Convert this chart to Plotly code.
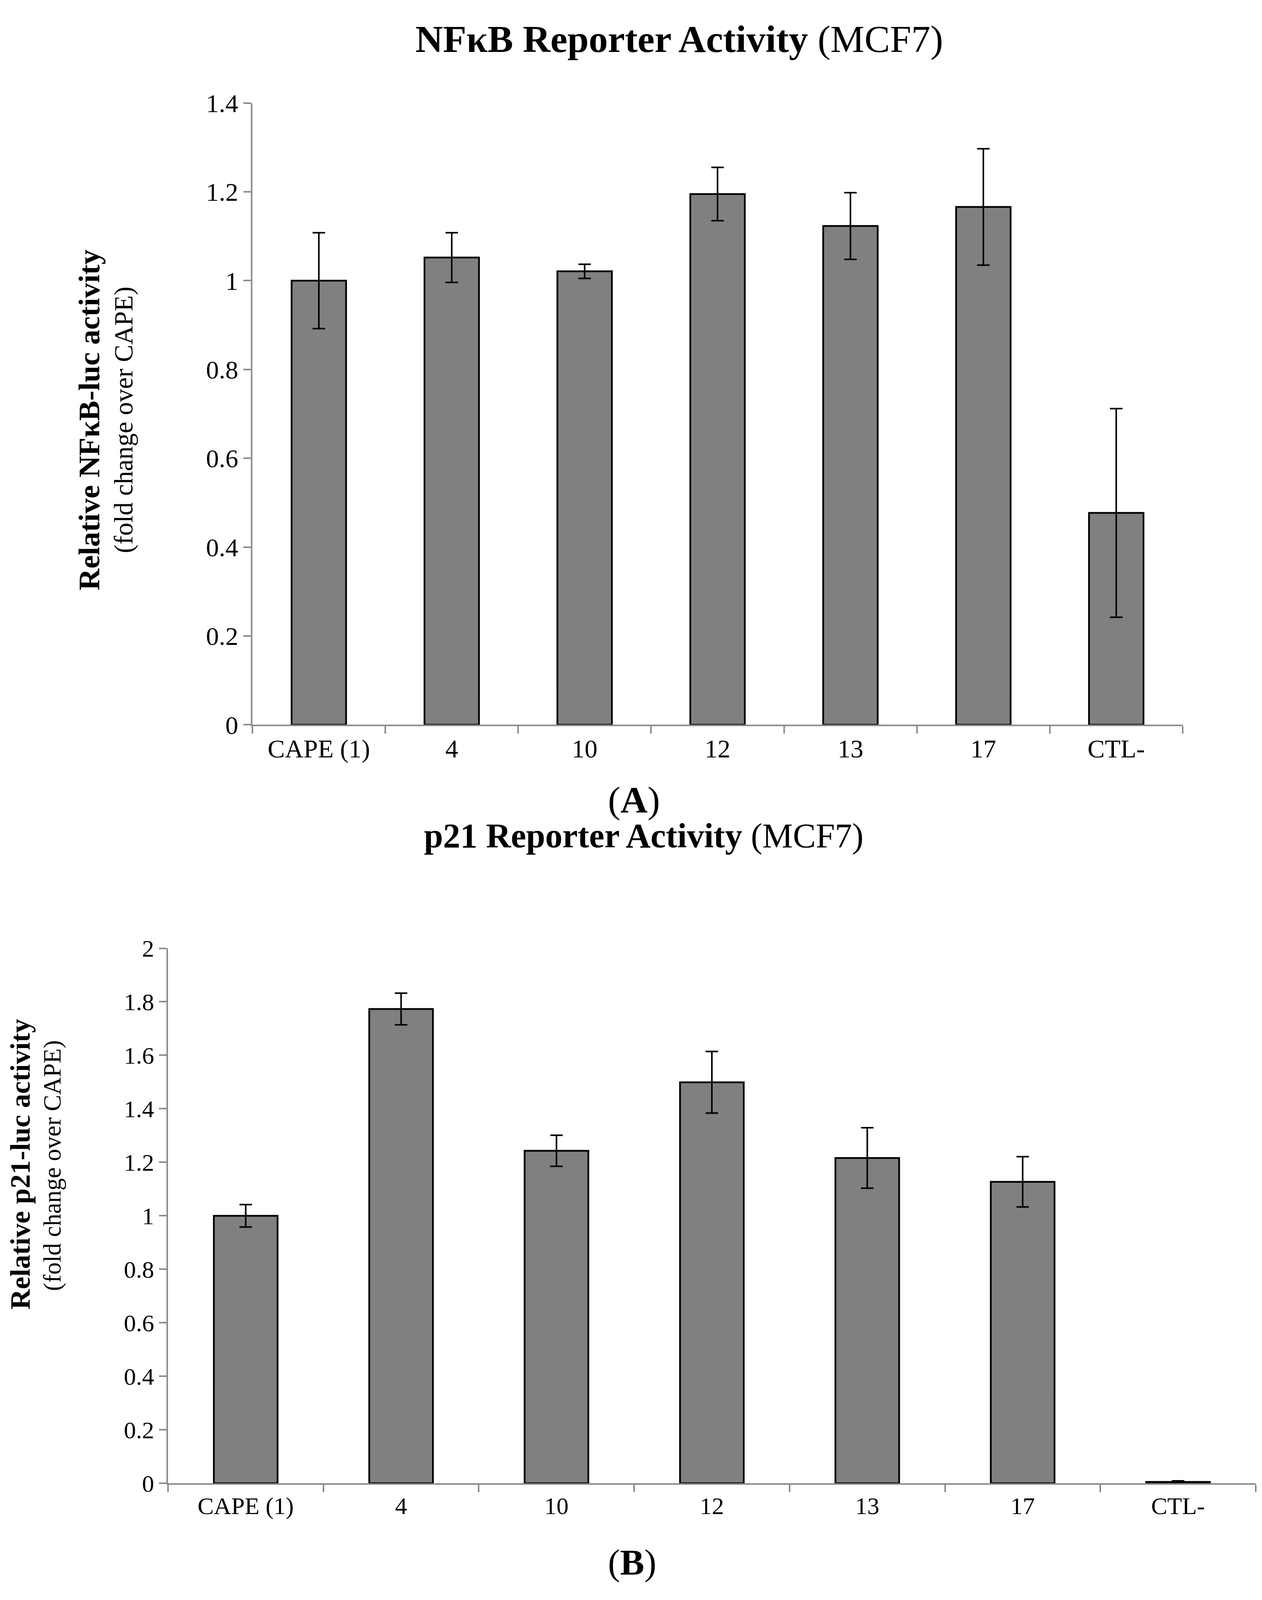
import plotly.graph_objects as go

# Compounds tested in both reporter assays
categories = ["CAPE (1)", "4", "10", "12", "13", "17", "CTL-"]

# NFkB-luc activity (fold change over CAPE) and error bars
nfkb_values = [1.000, 1.052, 1.021, 1.195, 1.123, 1.166, 0.477]
nfkb_errors = [0.108, 0.056, 0.016, 0.060, 0.075, 0.131, 0.235]

# p21-luc activity (fold change over CAPE) and error bars
p21_values = [1.000, 1.773, 1.243, 1.499, 1.216, 1.127, 0.005]
p21_errors = [0.042, 0.059, 0.058, 0.115, 0.113, 0.094, 0.004]

# The visible page is a bit shorter than the reference, so the figure is
# fitted into it and reference pixel positions are scaled vertically.
REF_H = 4353
FW, FH = 3214, 4075
K = (FH + 8) / REF_H
serif = "Liberation Serif, Times New Roman, serif"
axis_grey = "#8c8c8c"


def px_x(v):
    return (v - 8) / FW


def px_y(v):
    return 1 - (v * K - 8) / FH


fig = go.Figure()

fig.add_trace(go.Bar(
    x=categories, y=nfkb_values, width=0.41,
    marker=dict(color="#808080", line=dict(color="black", width=4.5)),
    error_y=dict(type="data", array=nfkb_errors, color="black", thickness=4, width=16),
    xaxis="x", yaxis="y", showlegend=False
))

fig.add_trace(go.Bar(
    x=categories, y=p21_values, width=0.41,
    marker=dict(color="#808080", line=dict(color="black", width=4.5)),
    error_y=dict(type="data", array=p21_errors, color="black", thickness=4, width=16),
    xaxis="x2", yaxis="y2", showlegend=False
))

common_x = dict(
    type="category", range=[-0.5, 6.5], showline=True, linecolor=axis_grey, linewidth=4,
    ticks="outside", tickson="boundaries", ticklen=19, tickwidth=4, tickcolor=axis_grey,
    showgrid=False, zeroline=False,
)
common_y = dict(
    showline=True, linecolor=axis_grey, linewidth=4, ticks="outside", ticklen=19,
    tickwidth=4, tickcolor=axis_grey, showgrid=False, zeroline=False, dtick=0.2,
)

fig.update_layout(
    width=FW, height=FH,
    margin=dict(l=0, r=0, t=0, b=0),
    paper_bgcolor="white", plot_bgcolor="white",
    font=dict(family=serif, color="black"),
    xaxis=dict(common_x, domain=[px_x(646), px_x(3027)], anchor="y",
               tickfont=dict(size=66, family=serif)),
    yaxis=dict(common_y, domain=[px_y(1975), px_y(247)], range=[0, 1.4], anchor="x",
               tickfont=dict(size=66, family=serif)),
    xaxis2=dict(common_x, domain=[px_x(430), px_x(3214)], anchor="y2",
                tickfont=dict(size=62, family=serif)),
    yaxis2=dict(common_y, domain=[px_y(4083), px_y(2596)], range=[0, 2], anchor="x2",
                tickfont=dict(size=62, family=serif)),
)

# Main title sits right at the top edge of the page
fig.add_annotation(
    text="<b>NFκB Reporter Activity</b> (MCF7)", x=px_x(1738), y=1.0,
    xref="paper", yref="paper", xanchor="center", yanchor="top", showarrow=False,
    font=dict(size=98, family=serif, color="black")
)

# Panel letters, second title and two-line y axis titles
texts = [
    ("(<b>A</b>)", 1622, 2183, 96, 0),
    ("<b>p21 Reporter Activity</b> (MCF7)", 1647, 2283, 88, 0),
    ("(<b>B</b>)", 1618, 4303, 93, 0),
    ("<b>Relative NFκB-luc activity</b>", 228, 1128, 77, -90),
    ("(fold change over CAPE)", 316, 1128, 67, -90),
    ("<b>Relative p21-luc activity</b>", 52, 3196, 72, -90),
    ("(fold change over CAPE)", 134, 3200, 63, -90),
]
for text, x, y, size, angle in texts:
    fig.add_annotation(
        text=text, x=px_x(x), y=px_y(y), xref="paper", yref="paper",
        xanchor="center", yanchor="middle", showarrow=False, textangle=angle,
        font=dict(size=size, family=serif, color="black")
    )

fig.write_html("out.html")
